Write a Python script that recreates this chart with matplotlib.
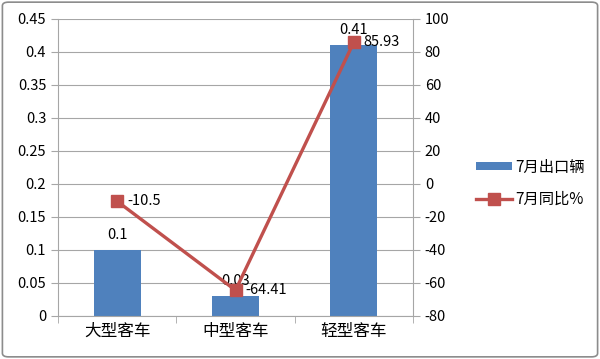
import matplotlib
matplotlib.use("Agg")
import matplotlib.pyplot as plt
from matplotlib.patches import FancyBboxPatch
import numpy as np

plt.rcParams['font.family'] = ['Noto Sans CJK SC', 'DejaVu Sans']
plt.rcParams['axes.unicode_minus'] = False

categories = ['大型客车', '中型客车', '轻型客车']
export_units = [0.1, 0.03, 0.41]
yoy_pct = [-10.5, -64.41, 85.93]
bar_label = '7月出口辆'
line_label = '7月同比%'

bar_color = '#4F81BD'
line_color = '#C0504D'
grid_color = '#A6A6A6'

fig = plt.figure(figsize=(6, 3.59), dpi=100)
ax = fig.add_axes([0.0967, 0.1198, 0.5916, 0.8274])
ax2 = ax.twinx()

x = np.arange(len(categories))
ax.bar(x, export_units, width=0.4, color=bar_color, zorder=2, label=bar_label)
ax.set_xlim(-0.5, 2.5)
ax.set_ylim(0, 0.45)
ax.set_yticks(np.arange(0, 0.451, 0.05))
ax.set_yticklabels(['0', '0.05', '0.1', '0.15', '0.2', '0.25', '0.3', '0.35', '0.4', '0.45'])
ax.yaxis.grid(True, color=grid_color, linewidth=0.8, zorder=0)
ax.set_axisbelow(True)
ax.set_xticks(x)
ax.set_xticklabels(categories, fontsize=12)
ax.tick_params(axis='x', length=0, pad=5)
ax.set_xticks([-0.5, 0.5, 1.5, 2.5], minor=True)
ax.tick_params(axis='x', which='minor', length=5, color=grid_color)
ax.tick_params(axis='y', length=5, color=grid_color, labelsize=10.5)

for spine in ['top', 'right']:
    ax.spines[spine].set_visible(False)
for spine in ['left', 'bottom']:
    ax.spines[spine].set_color(grid_color)

ln, = ax2.plot(x, yoy_pct, color=line_color, linewidth=2.4, marker='s',
               markersize=8, zorder=3, label=line_label)
ax2.set_ylim(-80, 100)
ax2.set_yticks(np.arange(-80, 101, 20))
ax2.tick_params(axis='y', length=5, color=grid_color, labelsize=10.5)
for spine in ['top', 'left', 'bottom']:
    ax2.spines[spine].set_visible(False)
ax2.spines['right'].set_color(grid_color)

for xi, v in zip(x, export_units):
    ax.annotate(f'{v:g}', (xi, v), xytext=(0, 6), textcoords='offset points',
                ha='center', va='bottom', fontsize=10.5)
for xi, v in zip(x, yoy_pct):
    ax2.annotate(f'{v:g}', (xi, v), xytext=(7, 0), textcoords='offset points',
                 ha='left', va='center', fontsize=10.5)

h1, l1 = ax.get_legend_handles_labels()
fig.legend(h1 + [ln], l1 + [line_label], loc='center left',
           bbox_to_anchor=(0.77, 0.49), frameon=False, fontsize=11,
           handlelength=2.4, handleheight=0.5, labelspacing=1.0, handletextpad=0.2)

border = FancyBboxPatch((0.004, 0.006), 0.992, 0.988, boxstyle='round,pad=0,rounding_size=0.01',
                        transform=fig.transFigure, fill=False, edgecolor='#8C8C8C',
                        linewidth=1.2)
fig.patches.append(border)

fig.savefig('out.png', dpi=100)
